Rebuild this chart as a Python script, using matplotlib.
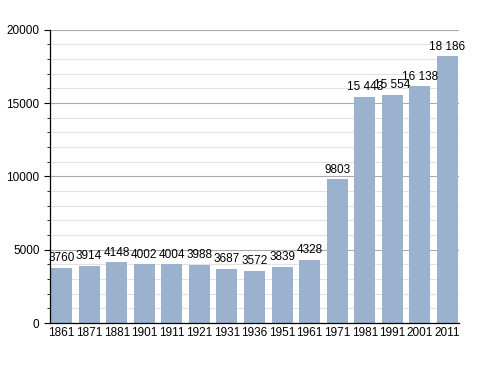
import matplotlib
matplotlib.use("Agg")
import matplotlib.pyplot as plt
from matplotlib.ticker import MultipleLocator

plt.rcParams['font.family'] = ['Liberation Sans', 'DejaVu Sans']

years = ["1861", "1871", "1881", "1901", "1911", "1921", "1931", "1936",
         "1951", "1961", "1971", "1981", "1991", "2001", "2011"]
population = [3760, 3914, 4148, 4002, 4004, 3988, 3687, 3572,
              3839, 4328, 9803, 15443, 15554, 16138, 18186]


def fmt(v):
    # space as thousands separator above 9999
    return f"{v:,}".replace(",", " ") if v >= 10000 else str(v)


fig = plt.figure(figsize=(4.88, 3.73), dpi=100)
ax = fig.add_axes([0.1025, 0.134, 0.838, 0.786])

x = range(len(years))
ax.bar(x, population, width=0.76, color="#9ab2cd", zorder=2)
for i, v in zip(x, population):
    ax.text(i, v + 250, fmt(v), ha="center", va="bottom", fontsize=8.5)

ax.set_ylim(0, 20000)
ax.set_xlim(-0.42, 14.42)
ax.yaxis.set_major_locator(MultipleLocator(5000))
ax.yaxis.set_minor_locator(MultipleLocator(1000))
ax.grid(axis="y", which="major", color="#aaaaaa", linewidth=0.8, zorder=0)
ax.grid(axis="y", which="minor", color="#e2e2e2", linewidth=0.8, zorder=0)
ax.set_axisbelow(True)

ax.set_xticks(list(x))
ax.set_xticklabels(years, fontsize=8.5)
ax.tick_params(axis="x", length=0, pad=3)
ax.tick_params(axis="y", which="major", labelsize=8.5, length=4)
ax.tick_params(axis="y", which="minor", length=2.5)

for s in ["top", "right"]:
    ax.spines[s].set_visible(False)
ax.spines["left"].set_linewidth(0.9)
ax.spines["bottom"].set_linewidth(0.9)

fig.savefig("out.png", dpi=100)
